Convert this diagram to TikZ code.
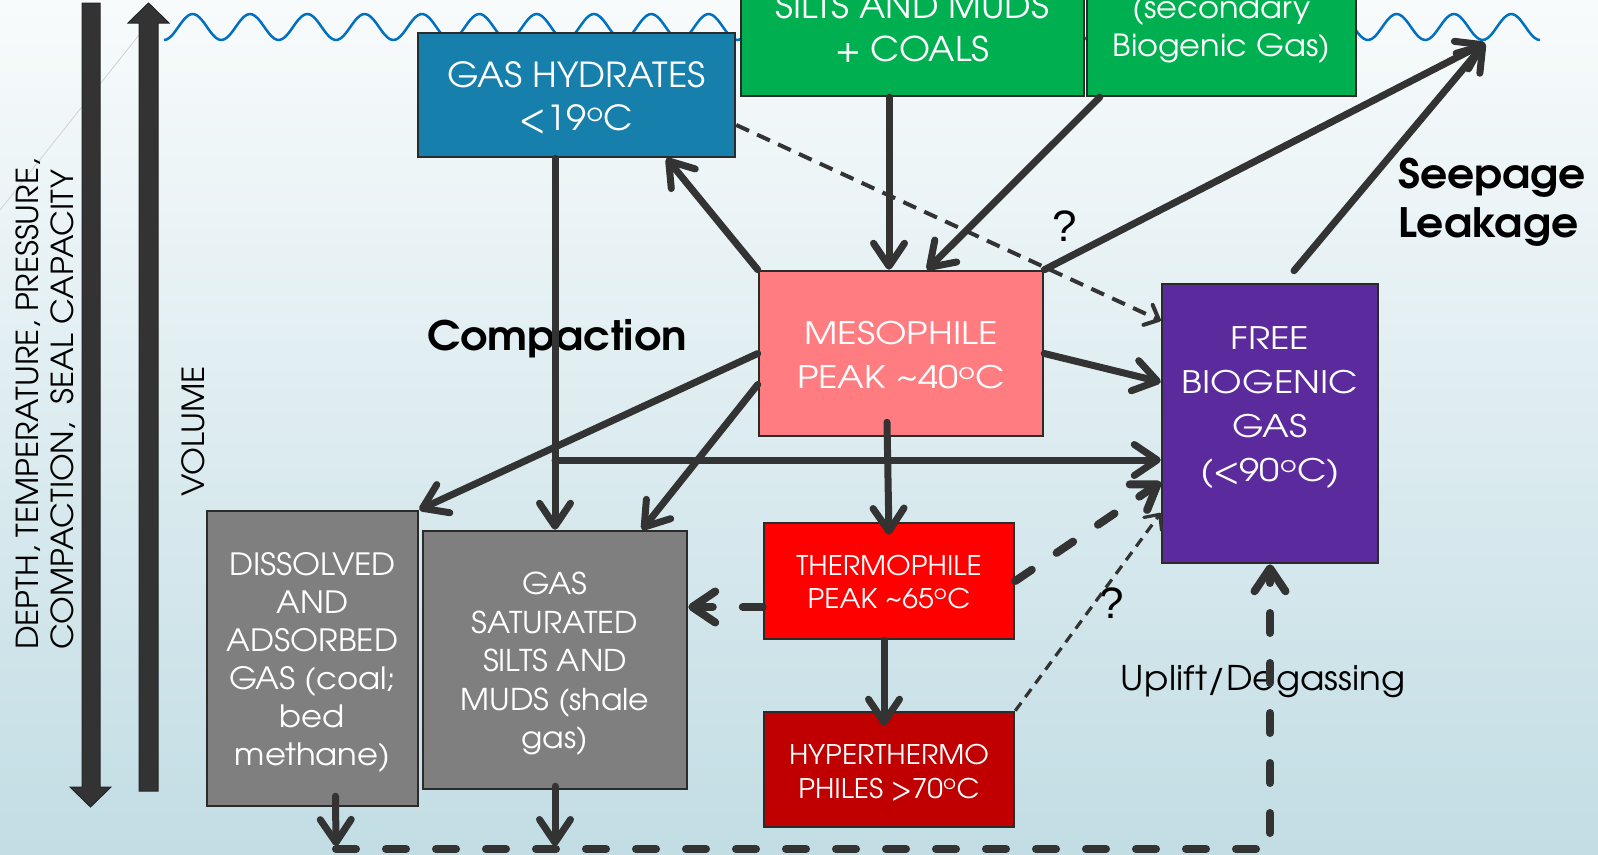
\documentclass[tikz,border=0pt]{standalone}
\usepackage{fontspec}
\setmainfont{TeX Gyre Adventor}[FakeStretch=1.05]
\newfontfamily\wideff{TeX Gyre Adventor}[FakeStretch=1.17]
\newfontfamily\qfont{Liberation Sans}
\usetikzlibrary{arrows.meta,calc}
\definecolor{cline}{HTML}{333333}
\definecolor{boxline}{HTML}{2B2B2B}
\definecolor{hydc}{HTML}{177FAB}
\definecolor{grc}{HTML}{00B050}
\definecolor{mesoc}{HTML}{FF7C80}
\definecolor{freec}{HTML}{5B2A9C}
\definecolor{thermc}{HTML}{FF0000}
\definecolor{hypc}{HTML}{C00000}
\definecolor{grayc}{HTML}{7F7F7F}
\definecolor{wavec}{HTML}{0070C0}
\definecolor{bgtop}{HTML}{F8FBFC}
\definecolor{bgbot}{HTML}{C2DDE4}
\newcommand\degs{\textsuperscript{o}}
\begin{document}
\begin{tikzpicture}[x=1pt,y=-1pt,
  box/.style={draw=boxline, line width=2.5pt, inner sep=0pt},
  btxt/.style={text=white, align=center, inner sep=0pt},
  conn/.style={draw=cline, line width=7pt, line cap=round, -{Straight Barb[length=23pt,width=31pt,round]}},
  thdash/.style={draw=cline, line width=4pt, dash pattern=on 14pt off 9pt, -{Straight Barb[length=12pt,width=22pt,round]}},
  thindash/.style={draw=cline, line width=3.2pt, dash pattern=on 10pt off 7pt, -{Straight Barb[length=12pt,width=22pt,round]}},
  bigdash/.style={draw=cline, line width=8pt, line cap=round, dash pattern=on 20pt off 30pt, -{Straight Barb[length=23pt,width=31pt,round]}},
  lbl/.style={text=black, inner sep=0pt},
  bigarrow/.style={fill=cline, draw=black!85, line width=1pt},
]
\useasboundingbox (0,0) rectangle (1598,854);
\clip (0,0) rectangle (1598,854);
\fill[top color=bgtop, bottom color=bgbot] (0,0) rectangle (1598,854);

% faint line
\draw[gray!35, line width=0.8pt] (0,210) -- (139,35);

% side arrows
\path[bigarrow] (82,3) -- (100,3) -- (100,787) -- (111,787) -- (90.5,807) -- (70,787) -- (82,787) -- cycle;
\path[bigarrow] (148.5,3) -- (169,23) -- (158,23) -- (158,791) -- (139,791) -- (139,23) -- (128,23) -- cycle;

\node[lbl, rotate=90, anchor=west, align=left, font=\fontsize{30.3}{35}\selectfont] (depthtxt) at (45.5,650)
  {DEPTH, TEMPERATURE, PRESSURE,\\COMPACTION,\ \ SEAL CAPACITY};
\node[lbl, rotate=90, font=\fontsize{30.5}{35}\selectfont] (voltxt) at (193.5,431.5) {VOLUME};

% wave
\draw[wavec, line width=2.5pt] plot[domain=0:1376, samples=500, smooth] ({164+\x}, {27+13*cos(6.2794*\x)});
\coordinate (seep) at (1485,43);

% boxes
\node[box, fill=hydc, minimum width=317pt, minimum height=124pt] (hyd) at (576.5,95) {};
\node[btxt, font=\fontsize{34.5}{43}\selectfont] (hydtxt) at (576.5,98) {GAS HYDRATES\\<19\degs C};
\node[box, fill=grc, minimum width=343pt, minimum height=156pt] (g1) at (912.5,18) {};
\node[btxt, font=\fontsize{34}{43}\selectfont] (g1txt) at (912.5,28) {SILTS AND MUDS\\+ COALS};
\node[box, fill=grc, minimum width=269pt, minimum height=156pt] (g2) at (1221.5,18) {};
\node[btxt, font=\fontsize{30.5}{38}\selectfont] (g2txt) at (1221.5,30) {(secondary\\Biogenic Gas)};
\node[box, fill=mesoc, minimum width=284pt, minimum height=165pt] (meso) at (901,353.5) {};
\node[btxt, font=\wideff\fontsize{31}{44}\selectfont] (mesotxt) at (901,355.5) {MESOPHILE\\PEAK \textasciitilde 40\degs C};
\node[box, fill=freec, minimum width=216pt, minimum height=279pt] (free) at (1270,423.5) {};
\node[btxt, font=\wideff\fontsize{31}{44}\selectfont] (freetxt) at (1270,407.5) {FREE\\BIOGENIC\\GAS\\(<90\degs C)};
\node[box, fill=thermc, minimum width=250pt, minimum height=116pt] (thermo) at (889,581) {};
\node[btxt, font=\fontsize{27}{33}\selectfont] (thermotxt) at (889,582.5) {THERMOPHILE\\PEAK \textasciitilde 65\degs C};
\node[box, fill=hypc, minimum width=250pt, minimum height=115pt] (hyper) at (889,769.5) {};
\node[btxt, font=\fontsize{27}{34}\selectfont] (hypertxt) at (889,772.5) {HYPERTHERMO\\PHILES >70\degs C};
\node[box, fill=grayc, minimum width=211pt, minimum height=295pt] (diss) at (312.5,658.5) {};
\node[btxt, font=\fontsize{30.7}{38}\selectfont] (disstxt) at (312.5,662.5) {DISSOLVED\\AND\\ADSORBED\\GAS (coal;\\bed\\methane)};
\node[box, fill=grayc, minimum width=264pt, minimum height=258pt] (sat) at (555,660) {};
\node[btxt, font=\fontsize{30}{38.5}\selectfont] (sattxt) at (555,664) {GAS\\SATURATED\\SILTS AND\\MUDS (shale\\gas)};

% labels
\node[lbl, anchor=base, font=\fontsize{40.5}{48}\selectfont\bfseries] (comp) at (557,350) {Compaction};
\node[lbl, anchor=west, align=left, font=\fontsize{40.5}{49}\selectfont\bfseries] (seeptxt) at (1398,202) {Seepage\\Leakage};
\node[lbl, font=\fontsize{34}{40}\selectfont] (uplift) at (1263,682) {Uplift/Degassing};
\node[lbl, font=\qfont\fontsize{44}{50}\selectfont] (q1) at (1065,226) {?};
\node[lbl, font=\qfont\fontsize{44}{50}\selectfont] (q2) at (1112,603) {?};

% coordinates
\coordinate (kst) at (555,460);
\coordinate (nst) at ([yshift=-26pt]thermo.west);
\coordinate (bl) at (336,849);
\coordinate (br) at (1270,849);

% connectors
\draw[conn] ([xshift=-23.5pt]g1.south) -- ([xshift=-12pt]meso.north);
\draw[conn] ([xshift=14pt]g2.south west) -- ([xshift=26pt]meso.north);
\draw[conn] (meso.north west) -- ([xshift=90pt]hyd.south);
\draw[thdash] ([yshift=-30pt]hyd.east) -- ([yshift=-38pt]free.north west);
\draw[conn] (meso.north east) -- (seep);
\draw[conn] ([shift={(24pt,12pt)}]free.north) -- (seep);
\draw[conn] (meso.east) -- ([yshift=41.5pt]free.west);
\draw[conn] (meso.west) -- (diss.north east);
\draw[conn] ([yshift=-31pt]meso.west) -- ([xshift=87pt]sat.north);
\draw[conn] (hyd.south -| sat.north) -- (sat.north);
\draw[conn] (kst) -- (kst -| free.west);
\draw[conn] ([shift={(-14pt,15pt)}]meso.south) -- ([yshift=-13pt]thermo.north);
\draw[conn] ([xshift=-5pt]thermo.south) -- ([shift={(-5pt,-15pt)}]hyper.north);
\draw[bigdash] (nst) -- (nst -| sat.east);
\draw[bigdash] (thermo.east) -- ([yshift=-58.5pt]free.west);
\draw[thindash] (hyper.north east) -- ([yshift=-89.5pt]free.west);
\draw[conn] ([shift={(23pt,11pt)}]diss.south) -- ([yshift=3pt]bl);
\draw[conn] ([yshift=4pt]sat.south) -- ([yshift=3pt]sat.south |- bl);
\draw[bigdash] (bl) -- (br) -- (free.south);
\end{tikzpicture}
\end{document}
